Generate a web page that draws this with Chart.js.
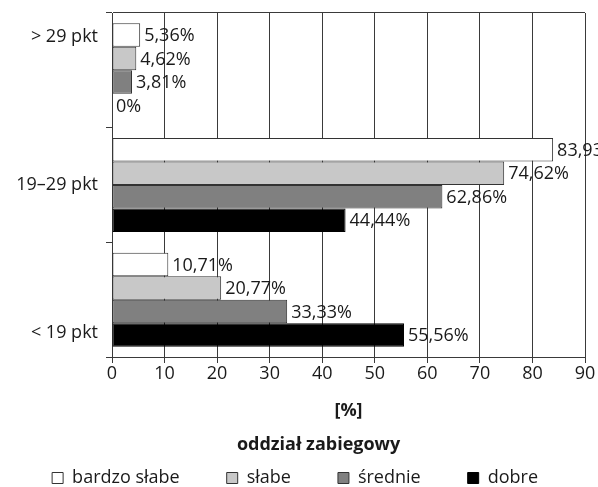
<!DOCTYPE html>
<html>
<head>
<meta charset="utf-8">
<script src="https://cdn.jsdelivr.net/npm/chart.js@4"></script>
<style>
  html, body { margin: 0; padding: 0; background: #ffffff; }
  #wrap { width: 598px; height: 487px; position: relative; }
</style>
</head>
<body>
<div id="wrap"><canvas id="c"></canvas></div>
<script>
// ---- data ----
const categories = ['> 29 pkt', '19–29 pkt', '< 19 pkt'];
const seriesNames = ['bardzo słabe', 'słabe', 'średnie', 'dobre'];
const bardzoSlabe = [5.36, 83.93, 10.71];
const slabe = [4.62, 74.62, 20.77];
const srednie = [3.81, 62.86, 33.33];
const dobre = [0, 44.44, 55.56];
const xTicks = [0, 10, 20, 30, 40, 50, 60, 70, 80, 90];
const xTitle = '[%]';
const chartTitle = 'oddział zabiegowy';

const FONT = '"Open Sans", "Noto Sans", sans-serif';
const TEXT = '#1a1a1a';
const LINE = '#3a3a3a';

const valueLabels = {
  id: 'valueLabels',
  afterDatasetsDraw(chart) {
    const ctx = chart.ctx;
    ctx.save();
    ctx.font = '18px ' + FONT;
    ctx.fillStyle = TEXT;
    ctx.textAlign = 'left';
    ctx.textBaseline = 'middle';
    chart.data.datasets.forEach((ds, di) => {
      const meta = chart.getDatasetMeta(di);
      meta.data.forEach((el, i) => {
        const v = ds.data[i];
        ctx.fillText(String(v).replace('.', ',') + '%', el.x + 4, el.y + 1);
      });
    });
    ctx.restore();
  }
};

const seriesData = [bardzoSlabe, slabe, srednie, dobre];
const fills = ['#ffffff', '#c8c8c8', '#808080', '#000000'];
const borders = ['#333333', '#333333', '#333333', '#000000'];

new Chart(document.getElementById('c'), {
  type: 'bar',
  data: {
    labels: categories,
    datasets: seriesNames.map((n, i) => ({
      label: n,
      data: seriesData[i],
      backgroundColor: fills[i],
      borderColor: borders[i],
      borderWidth: 1,
      borderSkipped: false,
      categoryPercentage: 0.82,
      barPercentage: 1.0
    }))
  },
  options: {
    indexAxis: 'y',
    responsive: true,
    maintainAspectRatio: false,
    animation: false,
    layout: { padding: { top: 13, right: 13, bottom: 0, left: 0 } },
    scales: {
      x: {
        min: 0, max: 90,
        afterBuildTicks(scale) { scale.ticks = xTicks.map(v => ({ value: v })); },
        afterFit(scale) { scale.height = 65; },
        grid: { color: LINE, lineWidth: 1, tickLength: 6, tickColor: LINE, drawTicks: true },
        border: { display: true, color: LINE, width: 1 },
        ticks: { font: { family: FONT, size: 18 }, color: TEXT, padding: 0, maxRotation: 0, autoSkip: false },
        title: { display: true, text: xTitle, font: { family: FONT, size: 18, weight: 'bold' }, color: TEXT, padding: { top: 0, bottom: 0 } }
      },
      y: {
        afterFit(scale) { scale.width = 112; scale.paddingTop = 0; scale.paddingBottom = 0; },
        grid: {
          offset: true,
          color: (c) => c.index === 0 ? LINE : 'rgba(0,0,0,0)',
          tickColor: LINE,
          tickLength: 6,
          drawTicks: true
        },
        border: { display: true, color: LINE, width: 1 },
        ticks: {
          font: { family: FONT, size: 18, lineHeight: 1.222 },
          color: TEXT,
          padding: 8,
          callback(value, index) {
            const l = categories[index];
            if (index === 0) return [l, '', '', ''];
            if (index === categories.length - 1) return ['', '', '', l];
            return l;
          }
        }
      }
    },
    plugins: {
      legend: {
        position: 'bottom',
        align: 'end',
        maxHeight: 65,
        title: {
          display: true,
          text: chartTitle,
          font: { family: FONT, size: 18, weight: 'bold' },
          color: TEXT,
          padding: { top: 14, bottom: -35.6 }
        },
        labels: {
          boxWidth: 11, boxHeight: 11, padding: 47,
          font: { family: FONT, size: 18 }, color: TEXT
        }
      },
      title: { display: false },
      tooltip: { enabled: false }
    }
  },
  plugins: [valueLabels]
});
</script>
</body>
</html>
